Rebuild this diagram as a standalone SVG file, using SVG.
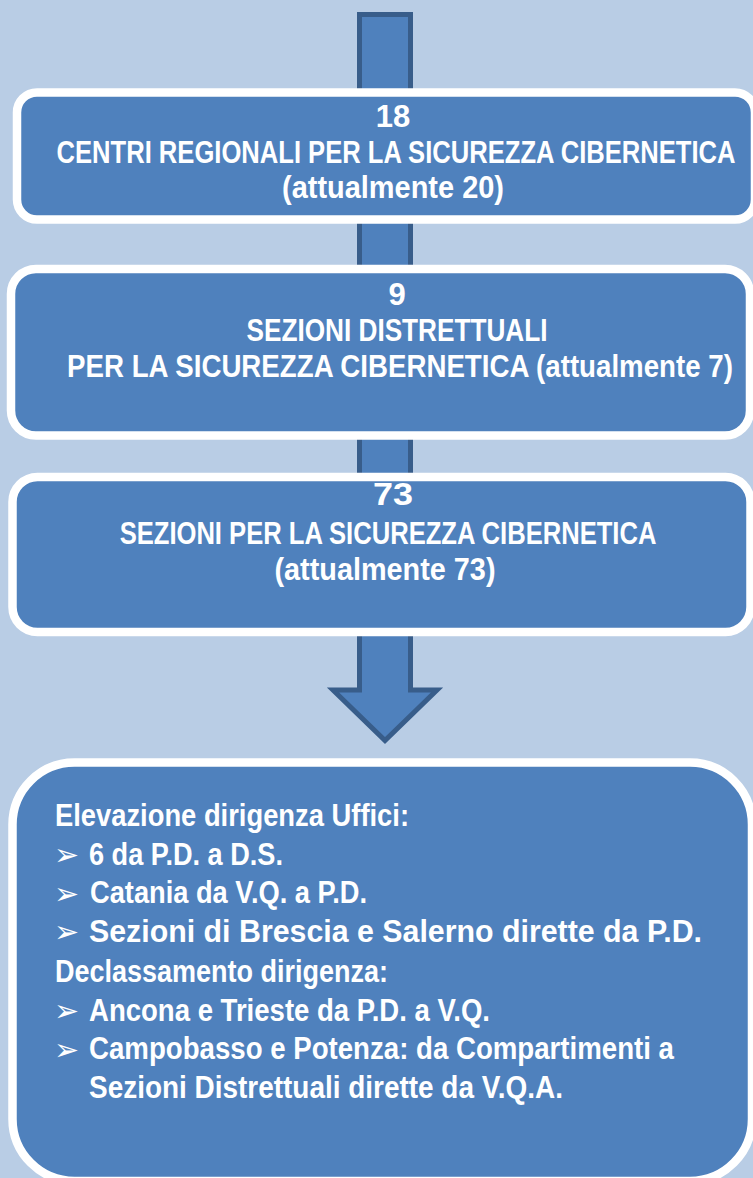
<svg xmlns="http://www.w3.org/2000/svg" width="753" height="1178" viewBox="0 0 753 1178">
<style>
.bg{fill:#b9cde5}
.box{fill:#4f81bd;stroke:#ffffff;stroke-width:8.5}
.arrow{fill:#4f81bd;stroke:#385d8a;stroke-width:5;stroke-linejoin:miter}
.t{font-family:"Liberation Sans Narrow","Liberation Sans",Arial,sans-serif;font-weight:bold;font-size:31px;fill:#ffffff}
.c{text-anchor:middle}
.b{font-family:"DejaVu Sans",sans-serif;font-size:30px;fill:#ffffff}
</style>
<rect class="bg" x="0" y="0" width="753" height="1178"/>
<g id="connectors">
<polygon class="arrow" points="359.5,14.5 410.5,14.5 410.5,690 437,690 385,740.5 333,690 359.5,690"/>
</g>
<g id="node1">
<rect class="box" x="17" y="92.5" width="738" height="127" rx="20"/>
<text class="t c" x="393" y="127">18</text>
<text class="t c" transform="translate(396,163) scale(0.823,1)" x="0" y="0" textLength="825" lengthAdjust="spacingAndGlyphs">CENTRI REGIONALI PER LA SICUREZZA CIBERNETICA</text>
<text class="t c" x="393" y="198" textLength="222" lengthAdjust="spacingAndGlyphs">(attualmente 20)</text>
</g>
<g id="node2">
<rect class="box" x="11" y="269" width="739" height="166.5" rx="25"/>
<text class="t c" x="397" y="305">9</text>
<text class="t c" x="397" y="341" textLength="301" lengthAdjust="spacingAndGlyphs">SEZIONI DISTRETTUALI</text>
<text class="t c" transform="translate(400,377) scale(0.889,1)" x="0" y="0" textLength="749" lengthAdjust="spacingAndGlyphs">PER LA SICUREZZA CIBERNETICA (attualmente 7)</text>
</g>
<g id="node3">
<rect class="box" x="12.5" y="477" width="738" height="155" rx="25"/>
<text class="t c" x="393" y="505" textLength="40" lengthAdjust="spacingAndGlyphs">73</text>
<text class="t c" transform="translate(388,544) scale(0.822,1)" x="0" y="0" textLength="653" lengthAdjust="spacingAndGlyphs">SEZIONI PER LA SICUREZZA CIBERNETICA</text>
<text class="t c" x="385" y="580" textLength="221" lengthAdjust="spacingAndGlyphs">(attualmente 73)</text>
</g>
<g id="node4">
<rect class="box" x="12.5" y="762.5" width="739.5" height="418.5" rx="62"/>
<text class="t" x="55" y="826" textLength="354" lengthAdjust="spacingAndGlyphs">Elevazione dirigenza Uffici:</text>
<text class="b" x="54" y="865">➢</text>
<text class="t" x="89" y="864.5" textLength="194" lengthAdjust="spacingAndGlyphs">6 da P.D. a D.S.</text>
<text class="b" x="54" y="903.5">➢</text>
<text class="t" x="90" y="903" textLength="277" lengthAdjust="spacingAndGlyphs">Catania da V.Q.  a P.D.</text>
<text class="b" x="54" y="942">➢</text>
<text class="t" x="89" y="941.5" textLength="613" lengthAdjust="spacingAndGlyphs">Sezioni di Brescia e Salerno dirette da P.D.</text>
<text class="t" x="55" y="982" textLength="333" lengthAdjust="spacingAndGlyphs">Declassamento dirigenza:</text>
<text class="b" x="54" y="1021">➢</text>
<text class="t" x="89" y="1020.5" textLength="401" lengthAdjust="spacingAndGlyphs">Ancona e Trieste da P.D. a V.Q.</text>
<text class="b" x="54" y="1059.5">➢</text>
<text class="t" x="89" y="1059" textLength="585" lengthAdjust="spacingAndGlyphs">Campobasso e Potenza: da Compartimenti a</text>
<text class="t" x="89" y="1097.5" textLength="474" lengthAdjust="spacingAndGlyphs">Sezioni Distrettuali dirette da V.Q.A.</text>
</g>
</svg>
